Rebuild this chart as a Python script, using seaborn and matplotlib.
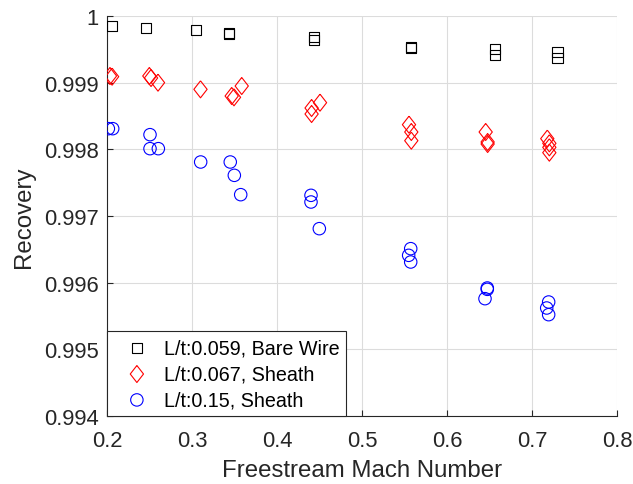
import numpy as np
import pandas as pd
import seaborn as sns
import matplotlib
matplotlib.use("Agg")
import matplotlib.pyplot as plt
from matplotlib.ticker import FixedLocator, FuncFormatter

# Recovery factor vs freestream Mach number for three probe configurations
bare_mach = [0.2059, 0.246, 0.305, 0.343, 0.343, 0.443, 0.443, 0.558, 0.558,
             0.656, 0.656, 0.730, 0.730]
bare_rec = [0.99985, 0.99982, 0.99979, 0.99975, 0.99973, 0.99969, 0.99964,
            0.99954, 0.99952, 0.99950, 0.99942, 0.99946, 0.99937]

sheath067_mach = [0.2035, 0.206, 0.2498, 0.2518, 0.260, 0.310, 0.3467, 0.3494,
                  0.3585, 0.4407, 0.4407, 0.4506, 0.5553, 0.558, 0.558, 0.6455,
                  0.6478, 0.6478, 0.718, 0.7204, 0.7204, 0.7204]
sheath067_rec = [0.99910, 0.99909, 0.99910, 0.99907, 0.99900, 0.99890, 0.99880,
                 0.99878, 0.99895, 0.99862, 0.99853, 0.99870, 0.99837, 0.99826,
                 0.99813, 0.99826, 0.99811, 0.99808, 0.99816, 0.99809, 0.99803,
                 0.99795]

sheath15_mach = [0.2016, 0.2067, 0.2506, 0.2506, 0.2604, 0.3102, 0.345, 0.3498,
                 0.3573, 0.440, 0.440, 0.4498, 0.5573, 0.5549, 0.5573, 0.6474,
                 0.6474, 0.6447, 0.7196, 0.7173, 0.7196]
sheath15_rec = [0.99831, 0.99831, 0.99822, 0.99801, 0.99801, 0.99781, 0.99781,
                0.99761, 0.99732, 0.99731, 0.99721, 0.99681, 0.99651, 0.99641,
                0.99631, 0.99592, 0.99590, 0.99576, 0.99571, 0.99562, 0.99552]

series_labels = ["L/t:0.059, Bare Wire", "L/t:0.067, Sheath", "L/t:0.15, Sheath"]
x_ticks = [0.2, 0.3, 0.4, 0.5, 0.6, 0.7, 0.8]
y_ticks = [0.994, 0.995, 0.996, 0.997, 0.998, 0.999, 1.0]

sns.set_theme(style="white")
plt.rcParams["font.family"] = ["Liberation Sans", "DejaVu Sans"]

fig = plt.figure(figsize=(6.33, 4.85), dpi=100)
ax = fig.add_axes([107 / 633, 1 - 417 / 485, 510 / 633, 400 / 485])

diamond = [(0, 1), (0.78, 0), (0, -1), (-0.78, 0), (0, 1)]
specs = [
    (bare_mach, bare_rec, "s", 52, "#000000"),
    (sheath067_mach, sheath067_rec, diamond, 150, "#ff0000"),
    (sheath15_mach, sheath15_rec, "o", 80, "#0000ff"),
]
for (mx, ry, mk, size, col), lab in zip(specs, series_labels):
    df = pd.DataFrame({"mach": mx, "recovery": ry})
    sns.scatterplot(data=df, x="mach", y="recovery", ax=ax, marker=mk, s=size,
                    facecolor="none", edgecolor=col, linewidth=0.8, label=lab,
                    zorder=3)

ax.set_xlim(0.2, 0.8)
ax.set_ylim(0.994, 1.0)
ax.xaxis.set_major_locator(FixedLocator(x_ticks))
ax.yaxis.set_major_locator(FixedLocator(y_ticks))
ax.xaxis.set_major_formatter(FuncFormatter(lambda v, p: f"{v:g}"))
ax.yaxis.set_major_formatter(FuncFormatter(lambda v, p: f"{v:g}"))

ax.grid(True, color="#dcdcdc", linewidth=0.8)
ax.set_axisbelow(True)
for side in ["top", "right"]:
    ax.spines[side].set_visible(False)
for side in ["left", "bottom"]:
    ax.spines[side].set_color("#262626")
    ax.spines[side].set_linewidth(0.8)

ax.tick_params(direction="in", length=4, width=0.8, color="#262626",
               labelsize=15.8, labelcolor="#262626",
               left=True, bottom=True)
ax.tick_params(axis="x", pad=10)
ax.tick_params(axis="y", pad=6)
ax.set_xlabel("Freestream Mach Number", fontsize=17.3, color="#262626",
              labelpad=6)
ax.set_ylabel("Recovery", fontsize=17.3, color="#262626", labelpad=6)

leg = ax.legend(loc="lower left", bbox_to_anchor=(0, 0), borderaxespad=0,
                fontsize=14.2, frameon=True, fancybox=False,
                handlelength=2.33, handletextpad=0.2, labelspacing=0.35,
                borderpad=0.35)
leg.get_frame().set_edgecolor("#262626")
leg.get_frame().set_linewidth(0.8)
leg.get_frame().set_alpha(1)
for t in leg.get_texts():
    t.set_color("#000000")

fig.savefig("out.png", dpi=100)
